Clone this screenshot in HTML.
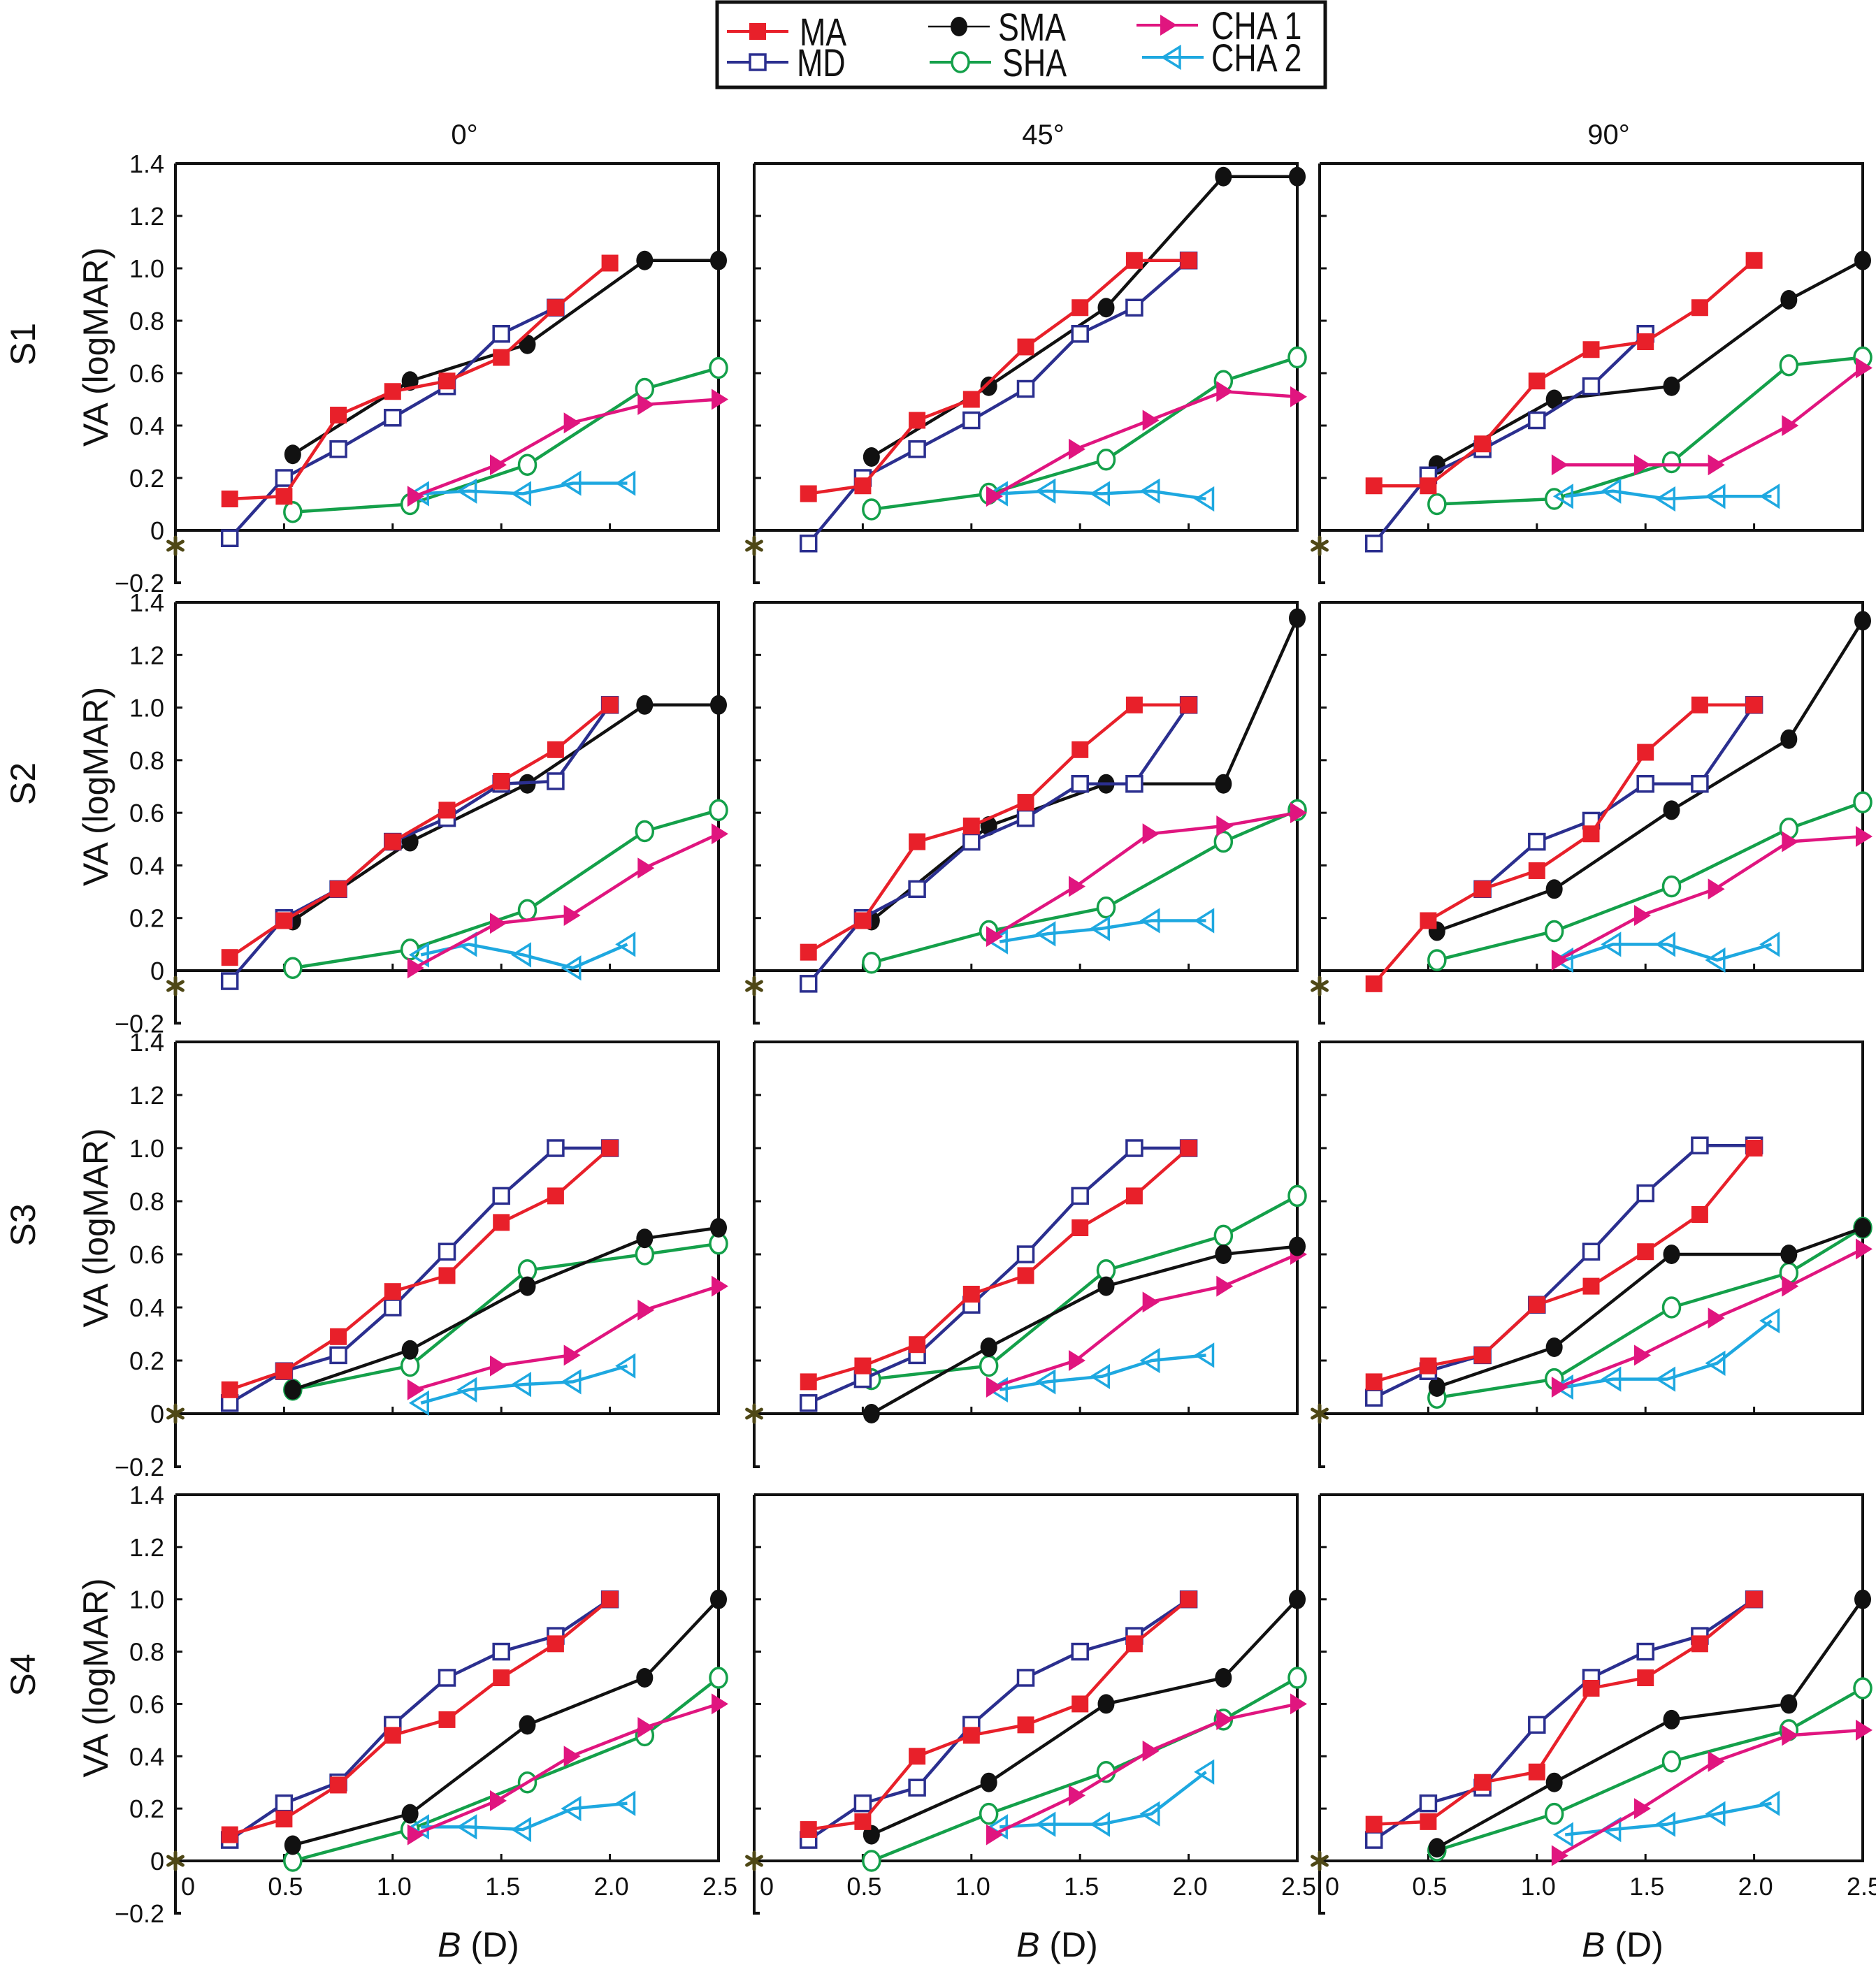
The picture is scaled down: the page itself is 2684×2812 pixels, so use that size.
<!DOCTYPE html>
<html><head><meta charset="utf-8"><style>
html,body{margin:0;padding:0;background:#fff;}
svg{display:block;font-family:"Liberation Sans",sans-serif;}
</style></head><body>
<svg id="chart" width="2684" height="2812" viewBox="0 0 2684 2812" xmlns="http://www.w3.org/2000/svg">
<g id="legend">
<rect x="1026" y="3" width="870" height="122" fill="#fff" stroke="#111" stroke-width="5"/>
</g>
</svg>
<script>
const subjects = ["S1","S2","S3","S4"];
const angles = ["0°","45°","90°"];
const seriesNames = ["MA","MD","SMA","SHA","CHA 1","CHA 2"];
const yTicks = [-0.2,0,0.2,0.4,0.6,0.8,1.0,1.2,1.4];
const yTickLabels = ["\u22120.2","0","0.2","0.4","0.6","0.8","1.0","1.2","1.4"];
const xTicks = [0,0.5,1.0,1.5,2.0,2.5];
const xTickLabels = ["0","0.5","1.0","1.5","2.0","2.5"];

const xMA = [0.25,0.5,0.75,1.0,1.25,1.5,1.75,2.0];
const xSM = [0.54,1.08,1.62,2.16,2.5];
const xC1 = [1.1,1.48,1.82,2.16,2.5];
const xC2 = [1.13,1.35,1.6,1.83,2.08];

const MA = [
 [[0.12,0.13,0.44,0.53,0.57,0.66,0.85,1.02],[0.14,0.17,0.42,0.50,0.70,0.85,1.03,1.03],[0.17,0.17,0.33,0.57,0.69,0.72,0.85,1.03]],
 [[0.05,0.19,0.31,0.49,0.61,0.72,0.84,1.01],[0.07,0.19,0.49,0.55,0.64,0.84,1.01,1.01],[-0.05,0.19,0.31,0.38,0.52,0.83,1.01,1.01]],
 [[0.09,0.16,0.29,0.46,0.52,0.72,0.82,1.0],[0.12,0.18,0.26,0.45,0.52,0.70,0.82,1.0],[0.12,0.18,0.22,0.41,0.48,0.61,0.75,1.0]],
 [[0.10,0.16,0.29,0.48,0.54,0.70,0.83,1.0],[0.12,0.15,0.40,0.48,0.52,0.60,0.83,1.0],[0.14,0.15,0.30,0.34,0.66,0.70,0.83,1.0]]
];
const MD = [
 [[-0.03,0.20,0.31,0.43,0.55,0.75,0.85,null],[-0.05,0.20,0.31,0.42,0.54,0.75,0.85,1.03],[-0.05,0.21,0.31,0.42,0.55,0.75,null,null]],
 [[-0.04,0.20,0.31,0.49,0.58,0.71,0.72,1.01],[-0.05,0.20,0.31,0.49,0.58,0.71,0.71,1.01],[null,null,0.31,0.49,0.57,0.71,0.71,1.01]],
 [[0.04,0.16,0.22,0.40,0.61,0.82,1.0,1.0],[0.04,0.13,0.22,0.41,0.60,0.82,1.0,1.0],[0.06,0.16,0.22,0.41,0.61,0.83,1.01,1.01]],
 [[0.08,0.22,0.30,0.52,0.70,0.80,0.86,1.0],[0.08,0.22,0.28,0.52,0.70,0.80,0.86,1.0],[0.08,0.22,0.28,0.52,0.70,0.80,0.86,1.0]]
];
const SMA = [
 [[0.29,0.57,0.71,1.03,1.03],[0.28,0.55,0.85,1.35,1.35],[0.25,0.50,0.55,0.88,1.03]],
 [[0.19,0.49,0.71,1.01,1.01],[0.19,0.55,0.71,0.71,1.34],[0.15,0.31,0.61,0.88,1.33]],
 [[0.09,0.24,0.48,0.66,0.70],[0.0,0.25,0.48,0.60,0.63],[0.10,0.25,0.60,0.60,0.70]],
 [[0.06,0.18,0.52,0.70,1.0],[0.10,0.30,0.60,0.70,1.0],[0.05,0.30,0.54,0.60,1.0]]
];
const SHA = [
 [[0.07,0.10,0.25,0.54,0.62],[0.08,0.14,0.27,0.57,0.66],[0.10,0.12,0.26,0.63,0.66]],
 [[0.01,0.08,0.23,0.53,0.61],[0.03,0.15,0.24,0.49,0.61],[0.04,0.15,0.32,0.54,0.64]],
 [[0.09,0.18,0.54,0.60,0.64],[0.13,0.18,0.54,0.67,0.82],[0.06,0.13,0.40,0.53,0.70]],
 [[0.0,0.12,0.30,0.48,0.70],[0.0,0.18,0.34,0.54,0.70],[0.04,0.18,0.38,0.50,0.66]]
];
const CHA1 = [
 [[0.13,0.25,0.41,0.48,0.50],[0.13,0.31,0.42,0.53,0.51],[0.25,0.25,0.25,0.40,0.62]],
 [[0.01,0.18,0.21,0.39,0.52],[0.13,0.32,0.52,0.55,0.60],[0.04,0.21,0.31,0.49,0.51]],
 [[0.09,0.18,0.22,0.39,0.48],[0.10,0.20,0.42,0.48,0.60],[0.10,0.22,0.36,0.48,0.62]],
 [[0.10,0.23,0.40,0.51,0.60],[0.10,0.25,0.42,0.54,0.60],[0.02,0.20,0.38,0.48,0.50]]
];
const CHA2 = [
 [[0.14,0.15,0.14,0.18,0.18],[0.14,0.15,0.14,0.15,0.12],[0.13,0.15,0.12,0.13,0.13]],
 [[0.06,0.10,0.06,0.01,0.10],[0.11,0.14,0.16,0.19,0.19],[0.04,0.10,0.10,0.04,0.10]],
 [[0.04,0.09,0.11,0.12,0.18],[0.09,0.12,0.14,0.20,0.22],[0.10,0.13,0.13,0.19,0.35]],
 [[0.13,0.13,0.12,0.20,0.22],[0.13,0.14,0.14,0.18,0.34],[0.10,0.12,0.14,0.18,0.22]]
];

const NS = "http://www.w3.org/2000/svg";
const svg = document.getElementById("chart");
const colLeft = [251,1079,1888];
const plotW = 777;
const rowTop = [234,862,1491,2139];
const rowZero = [759,1389,2023,2663];
const COL = {MA:"#e8202a",MD:"#2b2f8f",SMA:"#111",SHA:"#14a04a",C1:"#e0157f",C2:"#1ea8e0"};

function mk(tag, attrs, parent){const e=document.createElementNS(NS,tag);for(const k in attrs)e.setAttribute(k,attrs[k]);(parent||svg).appendChild(e);return e;}
function xs(c,v){return colLeft[c]+v/2.5*plotW;}
function ys(r,v){return rowZero[r]-v*(rowZero[r]-rowTop[r])/1.4;}

function marker(g,type,x,y,color){
  let e;
  if(type==="MA"){e=mk("rect",{x:x-12,y:y-12,width:24,height:24,fill:color},g);}
  else if(type==="MD"){e=mk("rect",{x:x-11,y:y-11,width:22,height:22,fill:"#fff",stroke:color,"stroke-width":3.5},g);}
  else if(type==="SMA"){e=mk("ellipse",{cx:x,cy:y,rx:12,ry:14,fill:color},g);}
  else if(type==="SHA"){e=mk("ellipse",{cx:x,cy:y,rx:12,ry:14,fill:"#fff",stroke:color,"stroke-width":3.5},g);}
  else if(type==="C1"){e=mk("polygon",{points:`${x-10},${y-15} ${x+14},${y} ${x-10},${y+15}`,fill:color},g);}
  else {e=mk("polygon",{points:`${x+10},${y-15} ${x-14},${y} ${x+10},${y+15}`,fill:"none",stroke:color,"stroke-width":3.5},g);}
  
  
}

function series(g,r,c,type,xv,yv,name){
  const sg=mk("g",{},g);
  
  
  const pts=[];
  for(let i=0;i<xv.length;i++){ if(yv[i]!==null&&yv[i]!==undefined) pts.push([xs(c,xv[i]),ys(r,yv[i])]); }
  const pl=mk("polyline",{points:pts.map(p=>p.join(",")).join(" "),fill:"none",stroke:COL[type],"stroke-width":4.5,"stroke-linejoin":"round"},sg);
  
  
  pts.forEach(p=>marker(sg,type,p[0],p[1],COL[type]));
}

function asterisk(g,x,y){
  const a=mk("g",{stroke:"#4f4816","stroke-width":5,"stroke-linecap":"round"},g);
  
  
  for(let k=0;k<3;k++){
    const ang=Math.PI/2+k*Math.PI/3, dx=Math.cos(ang)*12, dy=Math.sin(ang)*12;
    mk("line",{x1:x-dx,y1:y-dy,x2:x+dx,y2:y+dy},a);
  }
}

for(let r=0;r<4;r++){
  for(let c=0;c<3;c++){
    const g=mk("g",{});
    
    
    const L=colLeft[c],R=L+plotW,T=ys(r,1.4),Z=ys(r,0),B=ys(r,-0.2);
    const fr=mk("path",{d:`M${L},${T} H${R} V${Z} H${L}`,fill:"none",stroke:"#111","stroke-width":4},g);
    
    
    const ax=mk("path",{d:`M${L},${T} V${B} H${L+8}`,fill:"none",stroke:"#111","stroke-width":4},g);
    
    
    yTicks.forEach((v,i)=>{
      const y=ys(r,v);
      if(v>-0.1&&v<1.39){const t=mk("line",{x1:L,x2:L+10,y1:y,y2:y,stroke:"#111","stroke-width":3},g);
        }
      if(c===0){
        const tx=mk("text",{x:L-16,y:y+13,"text-anchor":"end","font-size":36,fill:"#111"},g);
        tx.textContent=yTickLabels[i];
        
        
      }
    });
    xTicks.forEach((v,i)=>{
      const x=xs(c,v);
      if(v>0&&v<2.5){const t=mk("line",{x1:x,x2:x,y1:Z,y2:Z-10,stroke:"#111","stroke-width":3},g);
        }
      if(r===3){
        const tx=mk("text",{x:v===0?x+18:x+2,y:2712,"text-anchor":"middle","font-size":36,fill:"#111"},g);
        tx.textContent=xTickLabels[i];
        
        
      }
    });
    asterisk(g,L,Z+(r<2?22:0));

    series(g,r,c,"SHA",xSM,SHA[r][c],"sha");
    series(g,r,c,"C2",xC2,CHA2[r][c],"cha2");
    series(g,r,c,"C1",xC1,CHA1[r][c],"cha1");
    series(g,r,c,"SMA",xSM,SMA[r][c],"sma");
    series(g,r,c,"MD",xMA,MD[r][c],"md");
    series(g,r,c,"MA",xMA,MA[r][c],"ma");

    if(c===0){
      const yl=mk("text",{transform:`translate(154,${(T+Z)/2}) rotate(-90)`,"text-anchor":"middle","font-size":50,fill:"#111"},g);
      yl.textContent="VA (logMAR)";
      
      
      const sl=mk("text",{transform:`translate(50,${(T+Z)/2-4}) rotate(-90)`,"text-anchor":"middle","font-size":50,fill:"#111"},g);
      sl.textContent=subjects[r];
      
      
    }
    if(r===0){
      const ct=mk("text",{x:L+plotW/2+25,y:206,"text-anchor":"middle","font-size":40,fill:"#111"},g);
      ct.textContent=angles[c];
      
      
    }
    if(r===3){
      const xt=mk("text",{x:L+plotW/2+45,y:2800,"text-anchor":"middle","font-size":50,fill:"#111"},g);
      xt.innerHTML='<tspan font-style="italic">B</tspan> (D)';
      
      
    }
  }
}

const lg=document.getElementById("legend");
const legItems=[["MA",1040,45,1144],["MD",1040,89,1140],["SMA",1328,38,1428],["SHA",1330,89,1434],["C1",1626,36,1733],["C2",1634,82,1733]];
legItems.forEach((it,i)=>{
  const g=mk("g",{},lg);
  
  
  const [t,x0,y,tx]=it;
  const ln=mk("line",{x1:x0,x2:x0+88,y1:y,y2:y,stroke:COL[t],"stroke-width":t==="SMA"?2.5:4},g);
  
  
  marker(g,t,x0+44,y,COL[t]);
  const te=mk("text",{x:tx,y:y+20,"font-size":56,fill:"#111",transform:`translate(${tx},0) scale(0.8,1) translate(${-tx},0)`},g);
  te.textContent=seriesNames[i];
  
  
});
</script>
</body></html>
